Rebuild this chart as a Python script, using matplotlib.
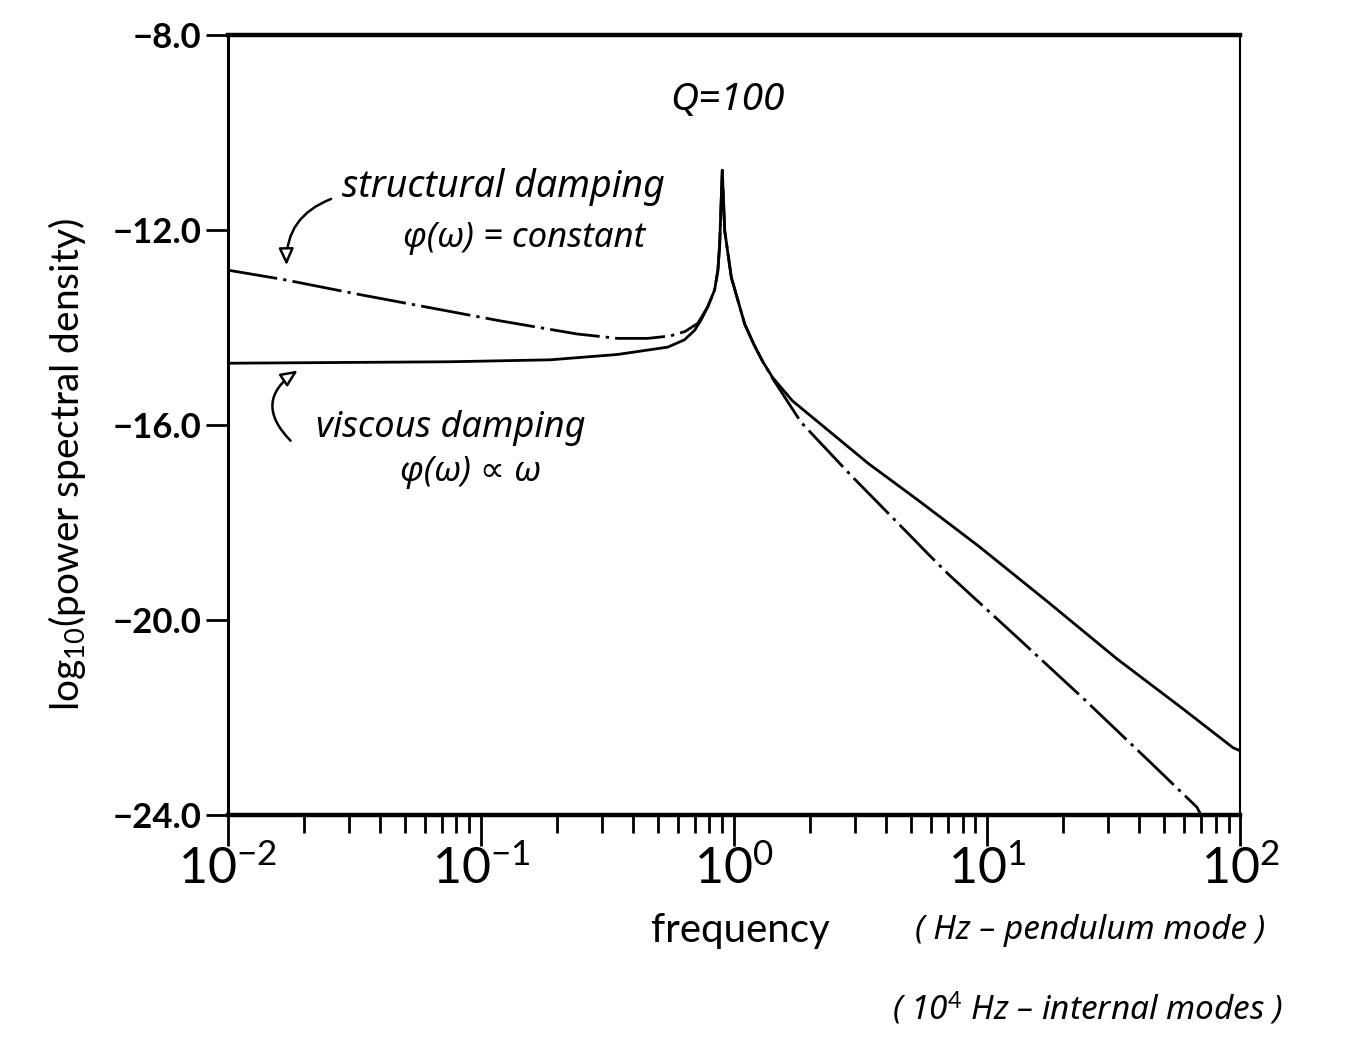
import numpy as np
import matplotlib
matplotlib.use("Agg")
import matplotlib.pyplot as plt
from matplotlib import font_manager

# curve readings: frequency and log10(PSD)
struct_f = [0.01, 0.0165, 0.0331, 0.0628, 0.119, 0.240, 0.347, 0.456, 0.560, 0.640,
            0.720, 0.788, 0.838, 0.864, 0.878, 0.899, 0.919, 0.976, 1.103, 1.20,
            1.30, 1.42, 1.84, 2.91, 4.60, 5.89, 7.07, 13.0, 23.8, 44.0, 67.5, 70.0]
struct_v = [-12.82, -13.01, -13.32, -13.59, -13.86, -14.13, -14.22, -14.22, -14.17, -14.08,
            -13.91, -13.57, -13.23, -12.82, -12.28, -10.77, -12.01, -12.97, -13.93, -14.35,
            -14.70, -15.04, -15.94, -17.04, -18.09, -18.66, -19.07, -20.33, -21.59, -22.91,
            -23.84, -24.0]

visc_f = [0.01, 0.0753, 0.188, 0.347, 0.547, 0.637, 0.700, 0.740, 0.788, 0.838,
          0.864, 0.878, 0.899, 0.919, 0.976, 1.103, 1.20, 1.30, 1.42, 1.70,
          2.154, 3.40, 5.37, 7.07, 9.3, 17.6, 32.5, 59.4, 93.8, 100.0]
visc_v = [-14.73, -14.70, -14.66, -14.55, -14.40, -14.25, -14.05, -13.85, -13.57, -13.23,
          -12.82, -12.28, -10.77, -12.01, -12.97, -13.93, -14.35, -14.70, -15.02, -15.50,
          -15.94, -16.79, -17.55, -18.02, -18.49, -19.65, -20.79, -21.82, -22.62, -22.68]

yticks = [-8, -12, -16, -20, -24]
ytick_labels = ["\u22128.0", "\u221212.0", "\u221216.0", "\u221220.0", "\u221224.0"]
xticks = [1e-2, 1e-1, 1e0, 1e1, 1e2]
xtick_labels = ["$10^{-2}$", "$10^{-1}$", "$10^{0}$", "$10^{1}$", "$10^{2}$"]

names = {f.name for f in font_manager.fontManager.ttflist}
plain = "Lato" if "Lato" in names else "DejaVu Sans"
narrow = "Liberation Sans Narrow" if "Liberation Sans Narrow" in names else plain

plt.rcParams["mathtext.fontset"] = "custom"
plt.rcParams["mathtext.rm"] = narrow
plt.rcParams["mathtext.it"] = narrow
plt.rcParams["font.family"] = [plain, "DejaVu Sans"]

fig = plt.figure(figsize=(13.48, 10.51), dpi=100)
ax = fig.add_axes([0.169, 0.2245, 0.751, 0.742])

ax.plot(visc_f, visc_v, color="black", lw=2.0, solid_joinstyle="round")
ax.plot(struct_f, struct_v, color="black", lw=2.0, dashes=[18, 2.2, 1.2, 2.2])

ax.set_xscale("log")
ax.set_xlim(1e-2, 1e2)
ax.set_ylim(-24, -8)

ax.set_yticks(yticks)
ax.set_yticklabels(ytick_labels, fontfamily=narrow, fontsize=25, fontweight="bold")
ax.set_xticks(xticks)
ax.set_xticklabels(xtick_labels, fontsize=36)
ax.xaxis.set_minor_locator(matplotlib.ticker.LogLocator(base=10, subs=np.arange(2, 10)))
ax.xaxis.set_minor_formatter(matplotlib.ticker.NullFormatter())
ax.yaxis.set_minor_locator(matplotlib.ticker.NullLocator())

ax.tick_params(axis="y", direction="out", length=16, width=2, pad=3)
ax.tick_params(axis="x", which="major", direction="out", length=22, width=2, pad=0)
ax.tick_params(axis="x", which="minor", direction="out", length=13, width=2)

ax.spines["top"].set_linewidth(3.2)
ax.spines["bottom"].set_linewidth(3.2)
ax.spines["left"].set_linewidth(2.2)
ax.spines["right"].set_linewidth(1.5)

hand = dict(family=["Noto Sans", "DejaVu Sans"], style="italic", color="black")

ax.text(0.493, 0.917, "Q=100", transform=ax.transAxes, ha="center", va="center",
        fontsize=28, **hand)
ax.text(0.272, 0.805, "structural damping", transform=ax.transAxes, ha="center",
        va="center", fontsize=27, **hand)
ax.text(0.293, 0.740, "\u03c6(\u03c9) = constant", transform=ax.transAxes, ha="center",
        va="center", fontsize=25, **hand)
ax.text(0.220, 0.496, "viscous damping", transform=ax.transAxes, ha="center",
        va="center", fontsize=26, **hand)
ax.text(0.240, 0.440, "\u03c6(\u03c9) \u221d \u03c9", transform=ax.transAxes, ha="center",
        va="center", fontsize=25, **hand)

arrow = dict(arrowstyle="-|>,head_length=1.0,head_width=0.45", color="black", lw=1.8,
             fc="white", shrinkA=0, shrinkB=0)
ax.annotate("", xy=(0.058, 0.705), xytext=(0.102, 0.79), xycoords="axes fraction",
            arrowprops=dict(connectionstyle="arc3,rad=0.35", **arrow))
ax.annotate("", xy=(0.069, 0.57), xytext=(0.062, 0.48), xycoords="axes fraction",
            arrowprops=dict(connectionstyle="arc3,rad=-0.6", **arrow))

fig.text(0.050, 0.558, "log$_{10}$(power spectral density)", rotation=90,
         ha="center", va="center", fontsize=28)
fig.text(0.549, 0.115, "frequency", ha="center", va="center", fontsize=29)
fig.text(0.809, 0.115, "( Hz \u2013 pendulum mode )", ha="center", va="center",
         fontsize=24, **hand)
fig.text(0.807, 0.039, "( 10$^4$ Hz \u2013 internal modes )", ha="center", va="center",
         fontsize=24, **hand)

fig.savefig("out.png", dpi=100, facecolor="white")
